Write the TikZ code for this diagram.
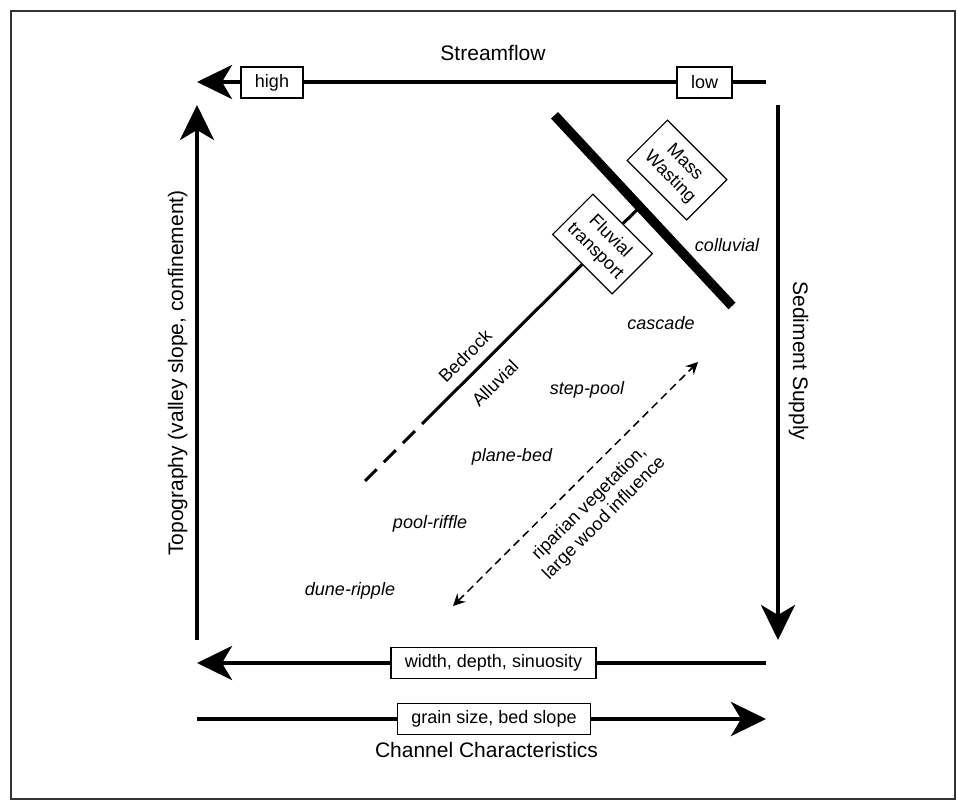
\documentclass[tikz,border=0pt]{standalone}
\usepackage{fontspec}
\setmainfont{Liberation Sans}
\usetikzlibrary{arrows.meta}

\begin{document}
\begin{tikzpicture}[x=0.5pt, y=-0.5pt,
  bigarrow/.style={-{Stealth[length=17.5pt, width=17pt, inset=5pt]}, line width=2pt},
  tag/.style={draw, line width=0.6pt, fill=white, inner xsep=7pt, inner ysep=0pt, minimum height=15.5pt, font=\fontsize{9}{10.5}\selectfont},
  title/.style={font=\fontsize{10.5}{12}\selectfont},
  morph/.style={font=\fontsize{9}{10.5}\selectfont\itshape},
  process/.style={draw, line width=0.6pt, fill=white, rotate=-45, align=center, minimum width=42pt, minimum height=28.5pt, inner sep=0pt, font=\fontsize{9}{10.5}\selectfont}]
\useasboundingbox (0,0) rectangle (957,801);
\draw[line width=1pt, black!80] (11,11) rectangle (955,799);

% outer axes
\coordinate (sfR) at (766,82);
\coordinate (sfL) at (197,82);
\coordinate (topoB) at (197,640);
\coordinate (topoT) at (197,105);
\coordinate (sedT) at (778,105);
\coordinate (sedB) at (778,640);
\coordinate (wdR) at (766,663);
\coordinate (wdL) at (197,663);
\coordinate (grL) at (197,719);
\coordinate (grR) at (766,719);
\draw[bigarrow] (sfR) -- (sfL);
\draw[bigarrow] (topoB) -- (topoT);
\draw[bigarrow] (sedT) -- (sedB);
\draw[bigarrow] (wdR) -- (wdL);
\draw[bigarrow] (grL) -- (grR);

\node[tag] (high) at (272,82.5) {high};
\node[tag] (low) at (704.5,82.5) {low};
\node[tag] (width) at (493.5,663) {width, depth, sinuosity};
\node[tag] (grain) at (494,719) {grain size, bed slope};

\node[title, anchor=base] (streamflow) at (493,61) {Streamflow};
\node[title, anchor=base] (channel) at (486.5,757) {Channel Characteristics};
\node[title, anchor=base, rotate=90] (topo) at (183,373) {Topography (valley slope, confinement)};
\node[title, anchor=base, rotate=-90] (sediment) at (793,361) {Sediment Supply};

% process domains
\coordinate (barT) at (554.5,115.3);
\coordinate (barB) at (732,306);
\draw[line width=4.8pt] (barT) -- (barB);
\node[process] (mass) at (677,170) {Mass\\Wasting};
\node[process] (fluvial) at (602.5,244) {Fluvial\\transport};
\coordinate (barjoin) at (640,207);
\coordinate (bedend) at (422,424);
\coordinate (bedtail) at (365,481);
\draw[line width=1.5pt] (fluvial.north) -- (barjoin);
\draw[line width=1.5pt] (fluvial.south) -- (bedend);
\draw[line width=1.5pt, dash pattern=on 8.5pt off 5pt, dash phase=8.5pt] (bedend) -- (bedtail);
\node[font=\fontsize{9}{10.5}\selectfont, rotate=45] (bedrock) at (465,356) {Bedrock};
\node[font=\fontsize{9}{10.5}\selectfont, rotate=45] (alluvial) at (495,383) {Alluvial};

% channel types
\node[morph] (colluvial) at (727,245) {colluvial};
\node[morph] (cascade) at (661,323) {cascade};
\node[morph] (steppool) at (587,390) {step-pool};
\node[morph] (planebed) at (512,457) {plane-bed};
\node[morph] (poolriffle) at (430,524) {pool-riffle};
\node[morph] (duneripple) at (350,591) {dune-ripple};

% riparian influence
\coordinate (ripB) at (453,606);
\coordinate (ripT) at (698,362);
\draw[{Stealth[length=6pt, width=6pt, inset=2pt]}-{Stealth[length=6pt, width=6pt, inset=2pt]}, line width=0.75pt, dash pattern=on 4pt off 2.5pt] (ripB) -- (ripT);
\node[font=\fontsize{9}{10.5}\selectfont, rotate=45, align=center] (ripnote) at (597,511) {riparian vegetation,\\large wood influence};
\end{tikzpicture}
\end{document}
